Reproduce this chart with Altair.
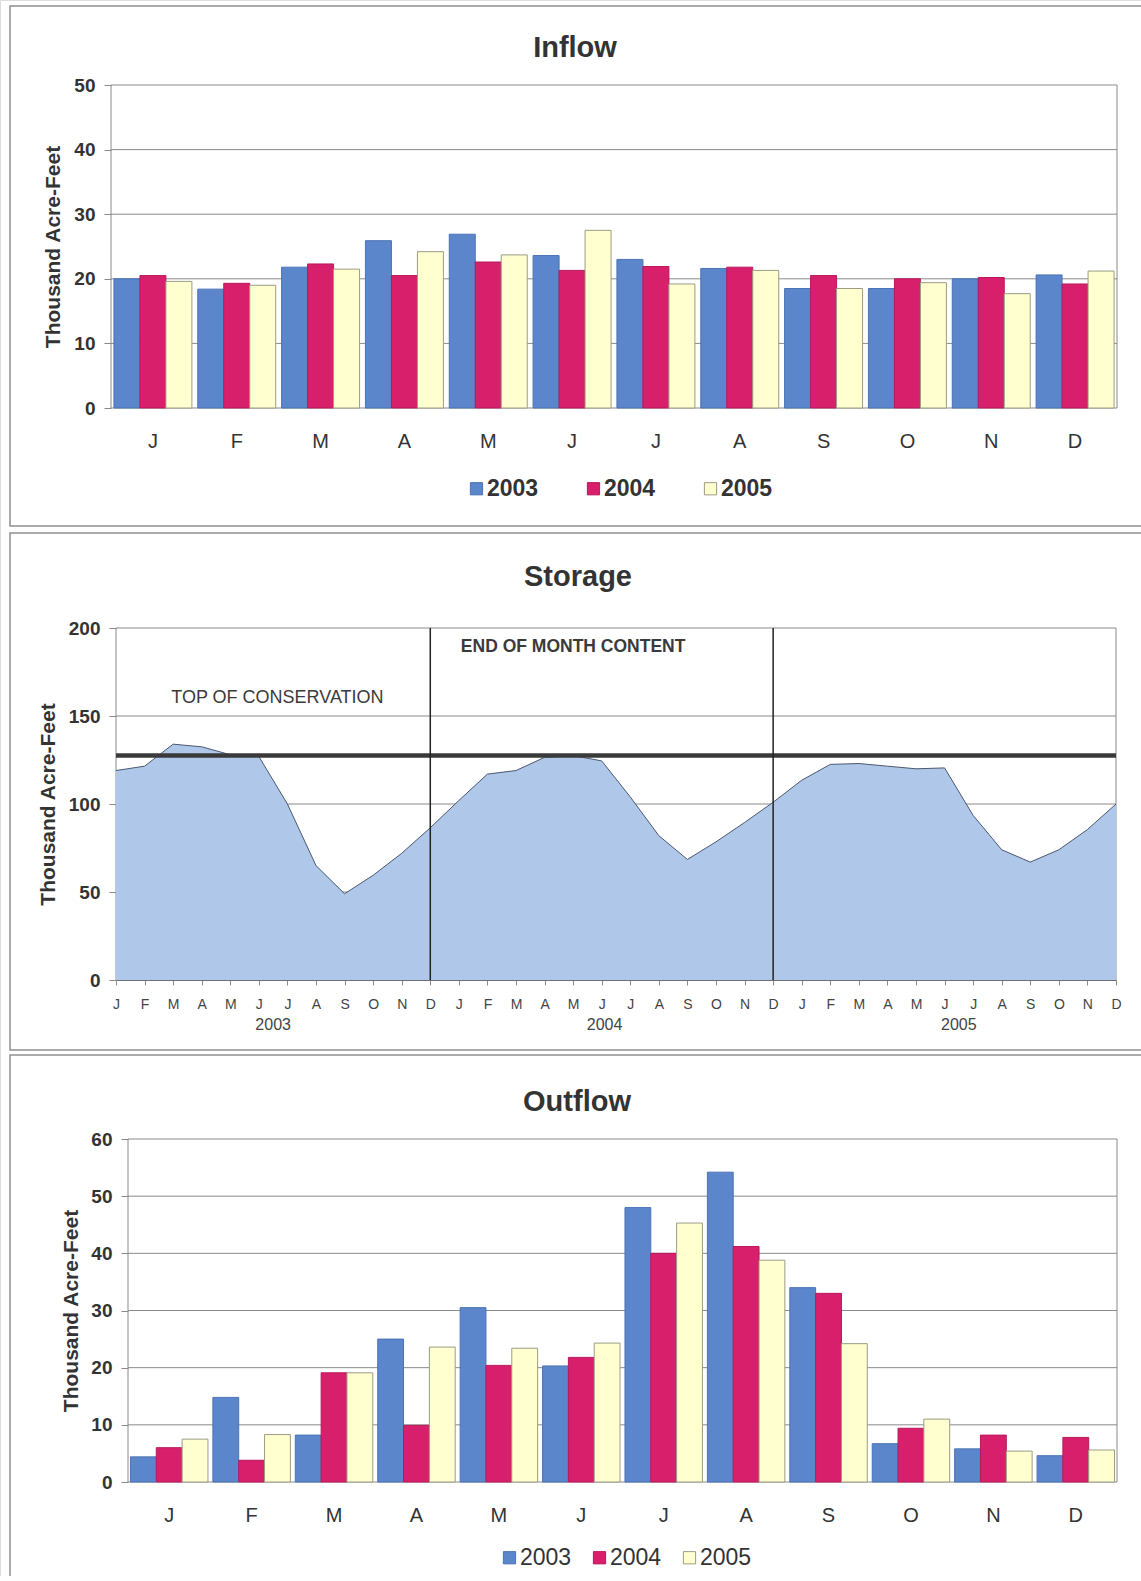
import altair as alt
import pandas as pd

FONT = "Liberation Sans"
TEXT = "#333333"
GRID = "#8a8a8a"
PAGE_W, PAGE_H = 1141, 1576

MONTHS = ["Jan", "Feb", "Mar", "Apr", "May", "Jun", "Jul", "Aug", "Sep", "Oct", "Nov", "Dec"]
YEARS = ["2003", "2004", "2005"]

# Monthly inflow, thousand acre-feet
INFLOW_2003 = [20.0, 18.4, 21.8, 25.9, 26.9, 23.6, 23.0, 21.6, 18.5, 18.5, 20.0, 20.6]
INFLOW_2004 = [20.5, 19.3, 22.3, 20.5, 22.6, 21.3, 21.9, 21.8, 20.5, 20.0, 20.2, 19.2]
INFLOW_2005 = [19.6, 19.0, 21.5, 24.2, 23.7, 27.5, 19.2, 21.3, 18.5, 19.4, 17.7, 21.2]

# End-of-month storage content, thousand acre-feet
STORAGE_2003 = [119.0, 121.5, 134.0, 132.5, 128.0, 127.0, 100.0, 65.0, 49.0, 59.5, 72.0, 86.5]
STORAGE_2004 = [102.0, 117.0, 119.0, 126.5, 127.5, 124.5, 104.0, 82.0, 68.5, 78.5, 89.5, 101.0]
STORAGE_2005 = [113.5, 122.5, 123.0, 121.5, 120.0, 120.5, 93.5, 74.0, 67.0, 74.0, 85.5, 100.0]
TOP_OF_CONSERVATION = 127.5

# Monthly outflow, thousand acre-feet
OUTFLOW_2003 = [4.4, 14.8, 8.2, 25.0, 30.5, 20.3, 48.0, 54.2, 34.0, 6.7, 5.8, 4.6]
OUTFLOW_2004 = [6.0, 3.8, 19.1, 9.9, 20.4, 21.8, 40.0, 41.2, 33.0, 9.4, 8.2, 7.8]
OUTFLOW_2005 = [7.5, 8.3, 19.1, 23.6, 23.4, 24.3, 45.3, 38.8, 24.2, 11.0, 5.4, 5.6]

FILL_COLORS = ["#5B86CC", "#D81F6B", "#FFFFCF"]
EDGE_COLORS = ["#4B73B4", "#B8195A", "#9C9C84"]

ONE = pd.DataFrame({"k": [0]})

# Page geometry of the three panels (pixels): outer box, plot area, headings
PANELS = {
    "inflow": dict(box=(10, 1160, 6, 526), plot=(111, 1117, 85, 408), head=(575, 48),
                   ytitle_x=-52, legend=(465, 477), legend_weight="bold", legend_gap=43),
    "storage": dict(box=(10, 1160, 533, 1050), plot=(116, 1116, 628, 980), head=(578, 577),
                    ytitle_x=-62),
    "outflow": dict(box=(10, 1160, 1055, 1600), plot=(128, 1117, 1139, 1482), head=(577, 1102),
                    ytitle_x=-51, legend=(498, 1546), legend_weight="normal", legend_gap=16),
}


def long_table(series, name):
    rows = []
    for year, vals in zip(YEARS, series):
        for m, v in zip(MONTHS, vals):
            rows.append({"month": m, "year": year, name: v})
    return pd.DataFrame(rows)


def box(x0, x1, y0, y1, color="#8f8f8f", width=1.5):
    return alt.Chart(ONE).mark_rect(fill="white", fillOpacity=0, stroke=color,
                                    strokeWidth=width).encode(
        x=alt.value(x0), x2=alt.value(x1), y=alt.value(y0), y2=alt.value(y1))


def heading(text, x, y):
    return alt.Chart(ONE).mark_text(font=FONT, fontSize=29, fontWeight="bold", color=TEXT,
                                    align="center", baseline="middle").encode(
        x=alt.value(x), y=alt.value(y), text=alt.value(text))


def level_axis(values, p, ytitle_x):
    x0, x1, y0, y1 = p
    return alt.Axis(orient="left", offset=-x0, values=values, grid=False, domain=False,
                    ticks=True, tickSize=7, tickColor=GRID, labelPadding=9,
                    labelFont=FONT, labelFontSize=19, labelFontWeight="bold",
                    labelColor=TEXT, title="Thousand Acre-Feet", titleFont=FONT,
                    titleFontSize=21, titleFontWeight="bold", titleColor=TEXT,
                    titleBaseline="alphabetic", titleX=ytitle_x, titleY=(y0 + y1) / 2)


def bar_panel(series, name, title, ymax, cfg, pad_inner):
    df = long_table(series, name)
    x0, x1, y0, y1 = cfg["plot"]
    ys = alt.Scale(domain=[0, ymax], nice=False, range=[y1, y0])
    yaxis = level_axis(list(range(0, ymax + 1, 10)), cfg["plot"], cfg["ytitle_x"])
    legend = alt.Legend(orient="none", legendX=cfg["legend"][0], legendY=cfg["legend"][1],
                        direction="horizontal", title=None, symbolType="square",
                        symbolSize=150, symbolStrokeWidth=1, labelFont=FONT,
                        labelFontSize=23, labelFontWeight=cfg["legend_weight"],
                        labelColor=TEXT, labelOffset={"expr": "-1"},
                        columnPadding=cfg["legend_gap"])
    grid = alt.Chart(pd.DataFrame({name: list(range(10, ymax, 10))})).mark_rule(
        color=GRID, strokeWidth=1).encode(
        y=alt.Y(f"{name}:Q", scale=ys, axis=yaxis), x=alt.value(x0), x2=alt.value(x1))
    bars = alt.Chart(df).mark_bar(strokeWidth=1).encode(
        x=alt.X("month:N", sort=MONTHS, title=None,
                scale=alt.Scale(range=[x0, x1], paddingInner=pad_inner,
                                paddingOuter=pad_inner / 2),
                axis=alt.Axis(orient="bottom", offset=y1 - PAGE_H,
                              labelExpr="substring(datum.value, 0, 1)", labelAngle=0,
                              ticks=False, domain=False, grid=False, labelFont=FONT,
                              labelFontSize=20, labelColor=TEXT, labelPadding=23)),
        xOffset=alt.XOffset("year:N", sort=YEARS),
        y=alt.Y(f"{name}:Q", scale=ys, axis=yaxis),
        fill=alt.Fill("year:N", scale=alt.Scale(domain=YEARS, range=FILL_COLORS), legend=legend),
        stroke=alt.Stroke("year:N", scale=alt.Scale(domain=YEARS, range=EDGE_COLORS), legend=legend),
    )
    return alt.layer(box(*cfg["box"]), box(x0, x1, y0, y1, GRID, 1), grid, bars,
                     heading(title, *cfg["head"]))


inflow = bar_panel([INFLOW_2003, INFLOW_2004, INFLOW_2005], "inflow", "Inflow", 50,
                   PANELS["inflow"], 0.07)
outflow = bar_panel([OUTFLOW_2003, OUTFLOW_2004, OUTFLOW_2005], "outflow", "Outflow", 60,
                    PANELS["outflow"], 0.06)

# Storage: one point per month over three years
S = PANELS["storage"]
sx0, sx1, sy0, sy1 = S["plot"]
storage_df = pd.DataFrame({"idx": list(range(36)),
                           "storage": STORAGE_2003 + STORAGE_2004 + STORAGE_2005})
month_axis = alt.Axis(orient="bottom", offset=sy1 - PAGE_H, values=list(range(36)),
                      labelExpr="substring('JFMAMJJASOND', datum.value % 12, datum.value % 12 + 1)",
                      labelFont=FONT, labelFontSize=14, labelColor="#444444", labelPadding=12,
                      ticks=True, tickSize=5, tickColor=GRID, domain=True, domainColor="#555555",
                      grid=False, labelFlush=False, labelOverlap=False, title=None)
storage_axis = level_axis([0, 50, 100, 150, 200], S["plot"], S["ytitle_x"])
xs = alt.Scale(domain=[0, 35], nice=False, zero=False, range=[sx0, sx1])
ys = alt.Scale(domain=[0, 200], nice=False, range=[sy1, sy0])


def sx(field="idx"):
    return alt.X(f"{field}:Q", scale=xs, axis=month_axis)


def sy(field="storage"):
    return alt.Y(f"{field}:Q", scale=ys, axis=storage_axis)


s_grid = alt.Chart(pd.DataFrame({"storage": [50, 100, 150]})).mark_rule(
    color=GRID, strokeWidth=1).encode(y=sy(), x=alt.value(sx0), x2=alt.value(sx1))
area = alt.Chart(storage_df).mark_area(color="#AFC7E8", opacity=1).encode(x=sx(), y=sy())
edge = alt.Chart(storage_df).mark_line(color="#4A5870", strokeWidth=1).encode(x=sx(), y=sy())
conservation = alt.Chart(pd.DataFrame({"storage": [TOP_OF_CONSERVATION]})).mark_rule(
    color="#3A3A3A", strokeWidth=4.5).encode(y=sy(), x=alt.value(sx0), x2=alt.value(sx1))
year_ends = alt.Chart(pd.DataFrame({"idx": [11, 23]})).mark_rule(
    color="#222222", strokeWidth=1.5).encode(x=sx(), y=alt.value(sy0), y2=alt.value(sy1))
year_labels = alt.Chart(pd.DataFrame({"idx": [5.5, 17.1, 29.5], "yr": YEARS})).mark_text(
    font=FONT, fontSize=16, color="#444444", baseline="middle").encode(
    x=sx(), y=alt.value(sy1 + 45), text="yr:N")
note_plain = alt.Chart(pd.DataFrame({"idx": [5.65], "storage": [160.0],
                                     "note": ["TOP OF CONSERVATION"]})).mark_text(
    font=FONT, fontSize=18, color="#3a3a3a", baseline="middle").encode(
    x=sx(), y=sy(), text="note:N")
note_bold = alt.Chart(pd.DataFrame({"idx": [16.0], "storage": [189.0],
                                    "note": ["END OF MONTH CONTENT"]})).mark_text(
    font=FONT, fontSize=17.5, fontWeight="bold", color="#3a3a3a", baseline="middle").encode(
    x=sx(), y=sy(), text="note:N")

storage = alt.layer(box(*S["box"]), box(sx0, sx1, sy0, sy1, GRID, 1), s_grid, area, edge,
                    conservation, year_ends, year_labels, note_plain, note_bold,
                    heading("Storage", *S["head"]))

chart = alt.layer(inflow, storage, outflow).resolve_scale(
    x="independent", y="independent", xOffset="independent",
    fill="independent", stroke="independent"
).resolve_axis(x="independent", y="independent").resolve_legend(
    fill="independent", stroke="independent"
).properties(
    width=PAGE_W, height=PAGE_H, padding=0, autosize=alt.AutoSizeParams(type="none")
).configure_view(strokeWidth=0).configure(background="white")

chart.save("out.html", embed_options={"renderer": "svg", "actions": False})
